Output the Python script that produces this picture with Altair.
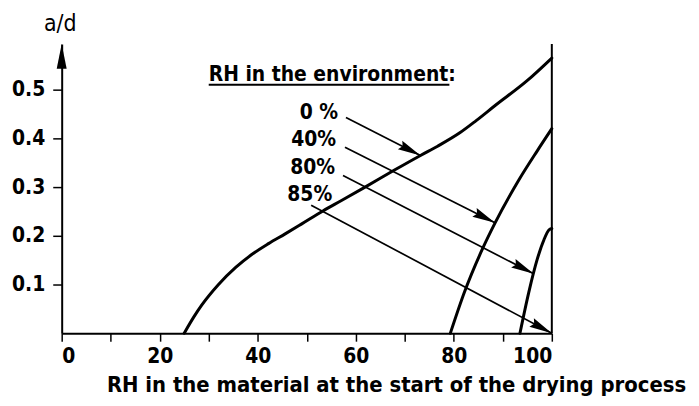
import math
import altair as alt
import pandas as pd

# ---- data ----
# a/d curves for the different RH in the environment
c0_x = [25, 27, 28.6, 32, 35.5, 38.7, 42.2, 45.6, 48.9, 53.3, 57, 61.9, 67.9, 73.2, 76.7, 81.3, 84.5, 88.5, 94.9, 100]
c0_y = [0, 0.034, 0.058, 0.100, 0.135, 0.161, 0.184, 0.204, 0.224, 0.251, 0.272, 0.300, 0.335, 0.365, 0.384, 0.412, 0.436, 0.468, 0.518, 0.565]
c40_x = [79.3, 82.2, 85.8, 88.4, 93.3, 97.0, 100]
c40_y = [0, 0.085, 0.172, 0.226, 0.315, 0.374, 0.42]
c80_x = [93.5, 95.3, 97.0, 98.4, 99.4, 100]
c80_y = [0, 0.084, 0.151, 0.192, 0.212, 0.215]

arrow_labels = ["0 %", "40%", "80%", "85%"]
arrow_x0 = [58.0, 57.8, 57.4, 50.9]
arrow_y0 = [0.443, 0.382, 0.324, 0.263]
arrow_x1 = [73.2, 88.4, 96.3, 100]
arrow_y1 = [0.365, 0.227, 0.122, 0.0]
label_x = [56.4, 56.0, 55.8, 55.2]
label_y = [0.453, 0.396, 0.339, 0.284]

legend_title = "RH in the environment:"
x_title = "RH in the material at the start of the drying process"
y_title = "a/d"
x_ticks = list(range(0, 101, 10))
y_ticks = [0.1, 0.2, 0.3, 0.4, 0.5]

# ---- layout ----
W, H = 493, 291
X_MAX, Y_MAX = 100, 0.594
PX_X = W / X_MAX
PX_Y = H / Y_MAX
FONT = "DejaVu Sans Condensed, DejaVu Sans"

rows = []
for name, xs, ys in (("0", c0_x, c0_y), ("40", c40_x, c40_y), ("80", c80_x, c80_y)):
    for i, (a, b) in enumerate(zip(xs, ys)):
        rows.append({"curve": name, "ord": i, "x": a, "y": b})
curves = pd.DataFrame(rows)

arrows = pd.DataFrame({
    "label": arrow_labels,
    "x0": arrow_x0, "y0": arrow_y0,
    "x1": arrow_x1, "y1": arrow_y1,
    "lx": label_x, "ly": label_y,
})
arrows["ang"] = [
    (math.degrees(math.atan2((b - a) * PX_X, (d - c) * PX_Y))) % 360
    for a, b, c, d in zip(arrows.x0, arrows.x1, arrows.y0, arrows.y1)
]

xs_ = alt.Scale(domain=[0, X_MAX], nice=False, zero=False)
ys_ = alt.Scale(domain=[0, Y_MAX], nice=False, zero=False)

xaxis = alt.Axis(
    values=x_ticks, labelExpr="datum.value % 20 == 0 ? datum.label : ''",
    tickSize=8, tickWidth=1.5, labelPadding=4, grid=False,
    title=x_title, titleX=45, titleY=59, titleAlign="left", titleBaseline="alphabetic",
    titleFontSize=22, titleFontWeight="bold", titleFont=FONT,
)
yaxis = alt.Axis(
    values=y_ticks, format=".1f", tickSize=9, tickWidth=1.5, labelPadding=8, grid=False,
    title=y_title, titleAngle=0, titleX=-2, titleY=-13, titleAlign="center",
    titleBaseline="alphabetic", titleFontSize=23, titleFontWeight="normal", titleFont=FONT,
)


def X(f):
    return alt.X(f, scale=xs_, axis=xaxis)


def Y(f):
    return alt.Y(f, scale=ys_, axis=yaxis)


lines = alt.Chart(curves).mark_line(color="black", strokeWidth=3, interpolate="monotone",
                                    strokeCap="round").encode(
    x=X("x:Q"), y=Y("y:Q"), detail="curve:N", order="ord:Q")

frame = pd.DataFrame({"x": [X_MAX], "y": [0.0], "y2": [Y_MAX]})
right_line = alt.Chart(frame).mark_rule(color="black", strokeWidth=2).encode(
    x=X("x:Q"), y=Y("y:Q"), y2="y2:Q")

arrow_shape = "M0,0L-0.42,2L0,1.75L0.42,2Z"
ax_head = pd.DataFrame({"x": [0.0], "y": [Y_MAX], "ang": [0.0]})
y_arrow = alt.Chart(ax_head).mark_point(shape="M0,0L-0.4,2L0.4,2Z", filled=True, color="black",
                                        opacity=1, size=625, strokeWidth=0).encode(
    x=X("x:Q"), y=Y("y:Q"), angle=alt.Angle("ang:Q", scale=None))

arr_lines = alt.Chart(arrows).mark_rule(color="black", strokeWidth=1.7).encode(
    x=X("x0:Q"), y=Y("y0:Q"), x2="x1:Q", y2="y1:Q")
arr_heads = alt.Chart(arrows).mark_point(shape=arrow_shape, filled=True, color="black",
                                         opacity=1, size=529, strokeWidth=0).encode(
    x=X("x1:Q"), y=Y("y1:Q"), angle=alt.Angle("ang:Q", scale=None))
arr_text = alt.Chart(arrows).mark_text(align="right", baseline="middle", font=FONT,
                                       fontSize=21, fontWeight="bold", color="black").encode(
    x=X("lx:Q"), y=Y("ly:Q"), text="label:N")

head = pd.DataFrame({"x": [30.0], "y": [0.518], "x2": [79.1], "yu": [0.510], "t": [legend_title]})
head_text = alt.Chart(head).mark_text(align="left", baseline="alphabetic", font=FONT,
                                      fontSize=21, fontWeight="bold", color="black").encode(
    x=X("x:Q"), y=Y("y:Q"), text="t:N")
head_line = alt.Chart(head).mark_rule(color="black", strokeWidth=2).encode(
    x=X("x:Q"), x2="x2:Q", y=Y("yu:Q"))

chart = alt.layer(
    right_line, lines, arr_lines, arr_heads, arr_text, head_text, head_line, y_arrow
).properties(
    width=W, height=H,
    autosize=alt.AutoSizeParams(type="none"),
    padding={"left": 54, "top": 35, "right": 140, "bottom": 62},
).configure_view(stroke=None).configure_axis(
    domainColor="black", domainWidth=2, tickColor="black",
    labelColor="black", titleColor="black",
    labelFont=FONT, labelFontSize=21, labelFontWeight="bold",
)

chart.save("out.html", embed_options={"renderer": "svg", "actions": False})
